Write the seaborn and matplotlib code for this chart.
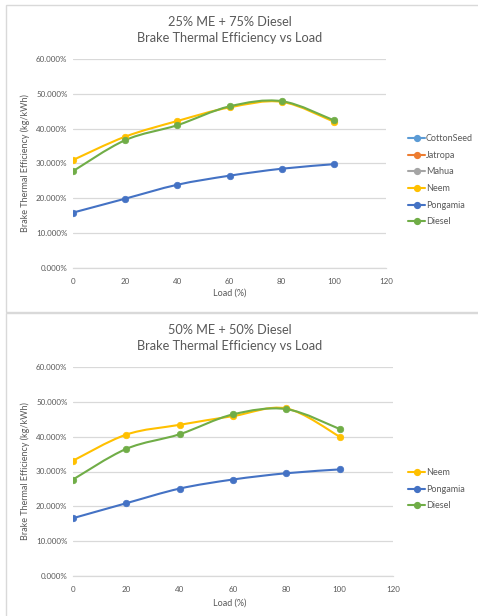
import matplotlib
matplotlib.use("Agg")
import matplotlib.pyplot as plt
import seaborn as sns
import pandas as pd
from matplotlib.path import Path
from matplotlib.patches import PathPatch, Rectangle
from matplotlib.lines import Line2D
from matplotlib.ticker import FuncFormatter, MultipleLocator

# ---------------- data ----------------
load = [0, 20, 40, 60, 80, 100]

# Chart 1: 25% ME + 75% Diesel
c1_neem = [0.310, 0.377, 0.422, 0.461, 0.477, 0.420]
c1_pongamia = [0.159, 0.199, 0.239, 0.265, 0.285, 0.298]
c1_diesel = [0.278, 0.367, 0.410, 0.464, 0.479, 0.424]

# Chart 2: 50% ME + 50% Diesel
c2_neem = [0.331, 0.406, 0.434, 0.459, 0.481, 0.400]
c2_pongamia = [0.166, 0.209, 0.251, 0.277, 0.295, 0.306]
c2_diesel = [0.277, 0.365, 0.407, 0.464, 0.479, 0.422]

chart1_series = ["CottonSeed", "Jatropa", "Mahua", "Neem", "Pongamia", "Diesel"]
chart2_series = ["Neem", "Pongamia", "Diesel"]
chart1_title = "25% ME + 75% Diesel\nBrake Thermal Efficiency vs Load"
chart2_title = "50% ME + 50% Diesel\nBrake Thermal Efficiency vs Load"
x_label = "Load (%)"
y_label = "Brake Thermal Efficiency (kg/kWh)"
x_ticks = [0, 20, 40, 60, 80, 100, 120]

colors = {
    "CottonSeed": "#5B9BD5",
    "Jatropa": "#ED7D31",
    "Mahua": "#A5A5A5",
    "Neem": "#FFC000",
    "Pongamia": "#4472C4",
    "Diesel": "#70AD47",
}

chart1_data = {"CottonSeed": [], "Jatropa": [], "Mahua": [],
               "Neem": c1_neem, "Pongamia": c1_pongamia, "Diesel": c1_diesel}
chart2_data = {"Neem": c2_neem, "Pongamia": c2_pongamia, "Diesel": c2_diesel}

# ---------------- style ----------------
sns.set_theme(style="white")
plt.rcParams["font.family"] = ["Lato", "DejaVu Sans"]
TXT = "#595959"
GRID = "#d9d9d9"

W, H = 478, 616
fig = plt.figure(figsize=(W / 100, H / 100), dpi=100)


def fx(px):
    return px / W


def fy(py):
    return 1 - py / H


# panel borders
fig.patches.append(Rectangle((fx(6), fy(312)), fx(480) - fx(6), fy(5) - fy(312),
                             transform=fig.transFigure, fill=False,
                             edgecolor=GRID, linewidth=1.0))
fig.patches.append(Rectangle((fx(6), fy(620)), fx(480) - fx(6), fy(313) - fy(620),
                             transform=fig.transFigure, fill=False,
                             edgecolor=GRID, linewidth=1.0))


def smooth_path(xs, ys):
    pts = list(zip(xs, ys))
    n = len(pts)
    verts = [pts[0]]
    codes = [Path.MOVETO]
    for i in range(n - 1):
        p0 = pts[i - 1] if i > 0 else pts[i]
        p1 = pts[i]
        p2 = pts[i + 1]
        p3 = pts[i + 2] if i + 2 < n else pts[i + 1]
        c1 = (p1[0] + (p2[0] - p0[0]) / 6, p1[1] + (p2[1] - p0[1]) / 6)
        c2 = (p2[0] - (p3[0] - p1[0]) / 6, p2[1] - (p3[1] - p1[1]) / 6)
        verts += [c1, c2, p2]
        codes += [Path.CURVE4] * 3
    return Path(verts, codes)


def draw_chart(ax_rect, data, order, title, title_y, legend_y0, xlabel_y):
    ax = fig.add_axes(ax_rect)
    for name in order:
        ys = data[name]
        if len(ys) == 0:
            continue
        df = pd.DataFrame({"load": load, "bte": ys})
        patch = PathPatch(smooth_path(load, ys), facecolor="none",
                          edgecolor=colors[name], linewidth=1.5,
                          capstyle="round", joinstyle="round", zorder=3)
        ax.add_patch(patch)
        sns.scatterplot(data=df, x="load", y="bte", ax=ax, color=colors[name],
                        s=22, edgecolor=colors[name], linewidth=0.5, zorder=4,
                        legend=False)
    ax.set_xlim(0, 120)
    ax.set_ylim(0, 0.6)
    ax.set_xticks(x_ticks)
    ax.yaxis.set_major_locator(MultipleLocator(0.1))
    ax.yaxis.set_major_formatter(FuncFormatter(lambda v, p: f"{v * 100:.3f}%"))
    ax.grid(axis="y", color=GRID, linewidth=0.9)
    ax.grid(axis="x", visible=False)
    for s in ["top", "right", "left"]:
        ax.spines[s].set_visible(False)
    ax.spines["bottom"].set_color(GRID)
    ax.spines["bottom"].set_linewidth(0.9)
    ax.tick_params(axis="both", length=0, labelsize=5.8, labelcolor=TXT, pad=7)
    ax.tick_params(axis="y", pad=4)
    ax.set_xlabel("")
    ax.set_ylabel(y_label, fontsize=6.5, color=TXT, labelpad=4)
    fig.text(fx(230), fy(xlabel_y), x_label, ha="center", va="center",
             fontsize=6.5, color=TXT)
    fig.text(fx(230), fy(title_y), title, ha="center", va="center",
             fontsize=9.2, color=TXT, linespacing=1.45)
    # legend
    handles = [Line2D([], [], color=colors[n], marker="o", markersize=4.2,
                      linewidth=1.5) for n in order]
    leg = fig.legend(handles, order, loc="upper left",
                     bbox_to_anchor=(fx(408), fy(legend_y0)),
                     frameon=False, fontsize=6.5, handlelength=1.9,
                     handletextpad=0.1, labelspacing=0.85, borderaxespad=0,
                     borderpad=0)
    for t in leg.get_texts():
        t.set_color(TXT)
    return ax


draw_chart([fx(73), fy(268), fx(386) - fx(73), fy(59) - fy(268)],
           chart1_data, chart1_series, chart1_title, 30, 134, 293)
draw_chart([fx(73), fy(576), fx(393) - fx(73), fy(367) - fy(576)],
           chart2_data, chart2_series, chart2_title, 338, 468, 603)

fig.savefig("out.png", dpi=100, facecolor="white")
